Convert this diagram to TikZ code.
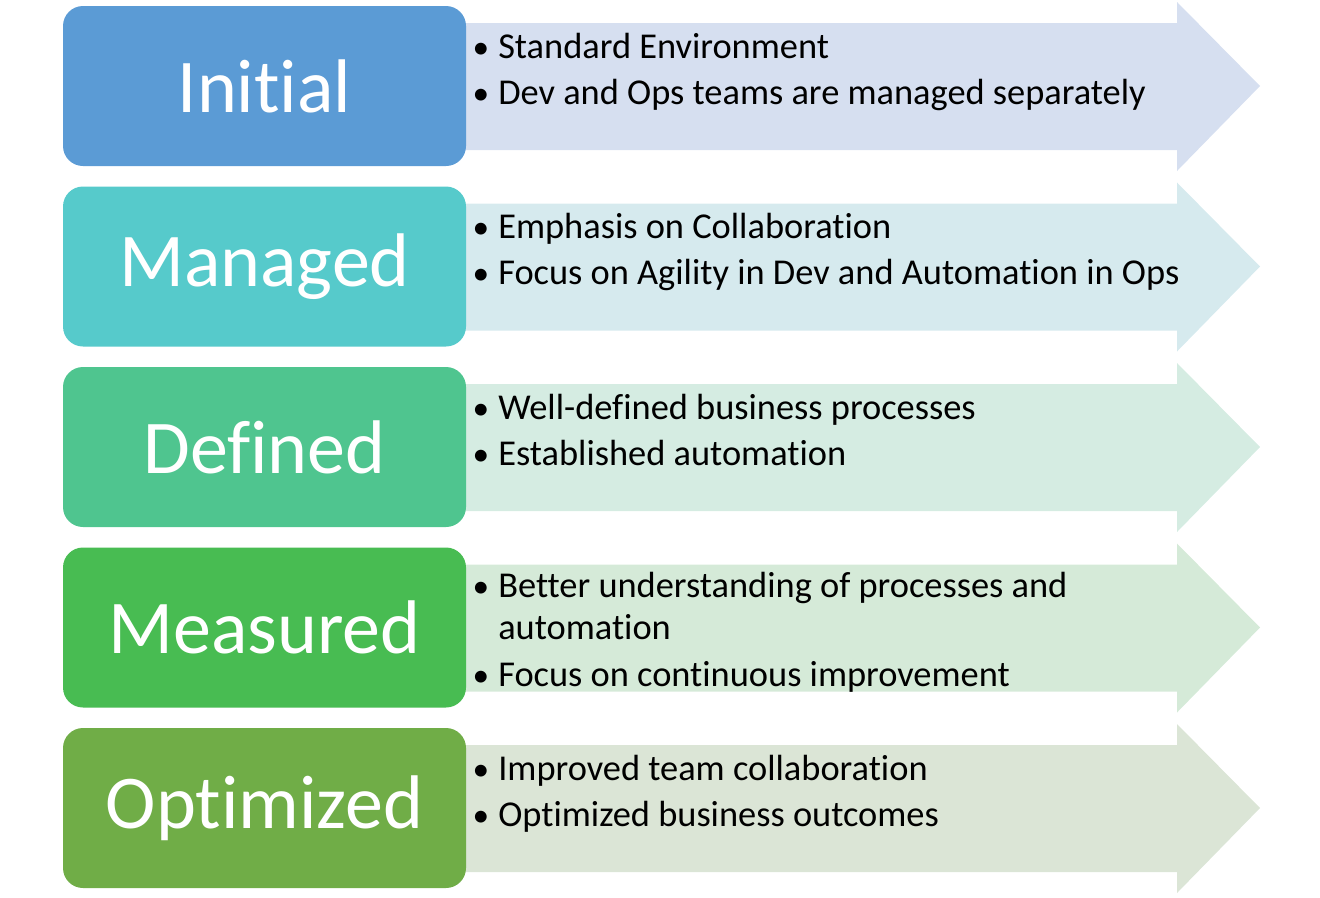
\documentclass[tikz,border=0pt]{standalone}
\usepackage{fontspec}
\setmainfont{Carlito}[Ligatures={NoCommon}]
\usepackage{tikz}

\definecolor{initialc}{HTML}{5B9BD5}
\definecolor{managedc}{HTML}{56CACB}
\definecolor{definedc}{HTML}{4FC58F}
\definecolor{measuredc}{HTML}{48BC52}
\definecolor{optimizedc}{HTML}{70AD47}
\definecolor{initiall}{HTML}{D6DFF0}
\definecolor{managedl}{HTML}{D6EAEE}
\definecolor{definedl}{HTML}{D5ECE2}
\definecolor{measuredl}{HTML}{D5EAD8}
\definecolor{optimizedl}{HTML}{DBE5D6}

\tikzset{
  stage/.style={rounded corners=15pt, minimum width=302.25pt, minimum height=120pt,
    inner sep=0pt, text=white, font=\fontsize{57}{60}\selectfont},
  item/.style={anchor=base west, inner sep=0pt, text=black, font=\fontsize{27.3}{30}\selectfont},
  dot/.style={anchor=base, inner sep=0pt, text=black, font=\fontsize{25}{28}\selectfont}
}

\begin{document}
\begin{tikzpicture}[x=0.75pt,y=0.75pt,yscale=-1,xscale=1]
\useasboundingbox (0,0) rectangle (1320,897);

%Shape: Arrow [id:initial]
\fill [initiall] (462,23) -- (1177,23) -- (1177,2) -- (1260,86) -- (1177,171) -- (1177,150) -- (462,150) -- cycle ;
%Shape: Arrow [id:managed]
\fill [managedl] (462,203.5) -- (1177,203.5) -- (1177,182.5) -- (1260,266.5) -- (1177,351.5) -- (1177,330.5) -- (462,330.5) -- cycle ;
%Shape: Arrow [id:defined]
\fill [definedl] (462,384) -- (1177,384) -- (1177,363) -- (1260,447) -- (1177,532) -- (1177,511) -- (462,511) -- cycle ;
%Shape: Arrow [id:measured]
\fill [measuredl] (462,564.5) -- (1177,564.5) -- (1177,543.5) -- (1260,627.5) -- (1177,712.5) -- (1177,691.5) -- (462,691.5) -- cycle ;
%Shape: Arrow [id:optimized]
\fill [optimizedl] (462,745) -- (1177,745) -- (1177,724) -- (1260,808) -- (1177,893) -- (1177,872) -- (462,872) -- cycle ;

%Rounded Rect
\node [stage, fill=initialc] (initial) at (264.5,86) {Initial};
%Rounded Rect
\node [stage, fill=managedc] (managed) at (264.5,266.5) {Managed};
%Rounded Rect
\node [stage, fill=definedc] (defined) at (264.5,447) {Defined};
%Rounded Rect
\node [stage, fill=measuredc] (measured) at (264.5,627.5) {Measured};
%Rounded Rect
\node [stage, fill=optimizedc] (optimized) at (264.5,808) {Optimized};

% Text Node
\node [dot] (dotA) at (481,58) {\textbullet};
\node [item] (itemA) at (498,58) {Standard Environment};
\node [dot] (dotB) at (481,104) {\textbullet};
\node [item] (itemB) at (498,104) {Dev and Ops teams are managed separately};
% Text Node
\node [dot] (dotC) at (481,238.5) {\textbullet};
\node [item] (itemC) at (498,238.5) {Emphasis on Collaboration};
\node [dot] (dotD) at (481,284.5) {\textbullet};
\node [item] (itemD) at (498,284.5) {Focus on Agility in Dev and Automation in Ops};
% Text Node
\node [dot] (dotE) at (481,419) {\textbullet};
\node [item] (itemE) at (498,419) {Well-defined business processes};
\node [dot] (dotF) at (481,465) {\textbullet};
\node [item] (itemF) at (498,465) {Established automation};
% Text Node
\node [dot] (dotG) at (481,597) {\textbullet};
\node [item] (itemG) at (498,597) {Better understanding of processes and};
\node [item] (itemG2) at (498,639) {automation};
\node [dot] (dotH) at (481,686) {\textbullet};
\node [item] (itemH) at (498,686) {Focus on continuous improvement};
% Text Node
\node [dot] (dotI) at (481,780) {\textbullet};
\node [item] (itemI) at (498,780) {Improved team collaboration};
\node [dot] (dotJ) at (481,826) {\textbullet};
\node [item] (itemJ) at (498,826) {Optimized business outcomes};

\end{tikzpicture}
\end{document}
